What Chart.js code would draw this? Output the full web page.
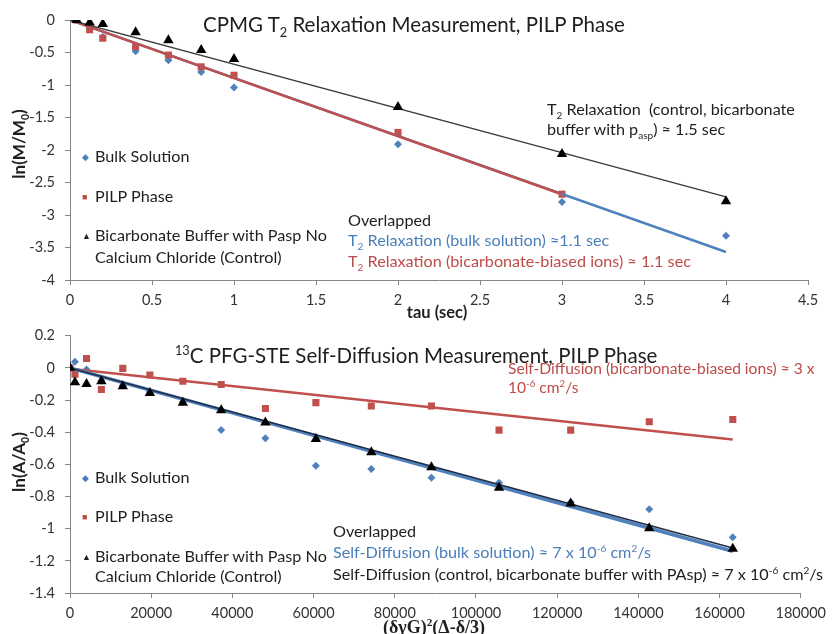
<!DOCTYPE html>
<html>
<head>
<meta charset="utf-8">
<script src="https://cdn.jsdelivr.net/npm/chart.js@4.4.0/dist/chart.umd.min.js"></script>
<style>
  body { margin: 0; background: #fff; }
  #wrap { position: relative; width: 833px; height: 634px; overflow: hidden; font-family: Lato, "Open Sans", sans-serif; color: #1e1e1e; }
  .cv { position: absolute; left: 0; }
  .t { position: absolute; white-space: nowrap; line-height: 1; }
  .c { transform: translate(-50%, -50%); }
  .rot { transform: translate(-50%, -50%) rotate(-90deg); font-weight: bold; font-size: 17px; }
  .blue { color: #4a7ebb; }
  .red { color: #be4b48; }
  .mk { display: inline-block; width: 13px; font-size: 9px; vertical-align: 2px; }
  sub, sup { font-size: 0.62em; line-height: 0; }
  .title { font-size: 20.5px; }
  .lab { font-size: 16.2px; }
</style>
</head>
<body>
<div id="wrap">
  <canvas id="t2Chart" class="cv" style="top:0" width="833" height="317"></canvas>
  <canvas id="diffChart" class="cv" style="top:317px" width="833" height="317"></canvas>

  <!-- CPMG chart text -->
  <div class="t title" style="left:203px;top:14px">CPMG T<sub>2</sub> Relaxation Measurement, PILP Phase</div>
  <div class="t lab" style="left:547px;top:101px">T<sub>2</sub> Relaxation&nbsp; (control, bicarbonate</div>
  <div class="t lab" style="left:547px;top:121px">buffer with p<sub>asp</sub>) ≈ 1.5 sec</div>
  <div class="t lab" style="left:82px;top:148px"><span class="mk blue">◆</span>Bulk Solution</div>
  <div class="t lab" style="left:82px;top:188px"><span class="mk red">■</span>PILP Phase</div>
  <div class="t lab" style="left:82px;top:227px"><span class="mk">▲</span>Bicarbonate Buffer with Pasp No</div>
  <div class="t lab" style="left:95px;top:249px">Calcium Chloride (Control)</div>
  <div class="t lab" style="left:348px;top:212px">Overlapped</div>
  <div class="t lab blue" style="left:348px;top:232px">T<sub>2</sub> Relaxation (bulk solution) ≈1.1 sec</div>
  <div class="t lab red" style="left:348px;top:253px">T<sub>2</sub> Relaxation (bicarbonate-biased ions) ≈ 1.1 sec</div>
  <div class="t c" style="left:437px;top:312px;font-weight:bold;font-size:16.5px">tau (sec)</div>
  <div class="t rot" style="left:18px;top:144px">ln(M/M<sub>0</sub>)</div>

  <!-- PFG-STE chart text -->
  <div class="t title" style="left:175px;top:345px"><sup>13</sup>C PFG-STE Self-Diffusion Measurement, PILP Phase</div>
  <div class="t red" style="left:508px;top:361px;font-size:15.6px">Self-Diffusion (bicarbonate-biased ions) ≈ 3 x</div>
  <div class="t red" style="left:508px;top:380px;font-size:15.6px">10<sup>-6</sup> cm<sup>2</sup>/s</div>
  <div class="t lab" style="left:82px;top:469px"><span class="mk blue">◆</span>Bulk Solution</div>
  <div class="t lab" style="left:82px;top:508px"><span class="mk red">■</span>PILP Phase</div>
  <div class="t lab" style="left:82px;top:548px"><span class="mk">▲</span>Bicarbonate Buffer with Pasp No</div>
  <div class="t lab" style="left:95px;top:568px">Calcium Chloride (Control)</div>
  <div class="t lab" style="left:333px;top:523px">Overlapped</div>
  <div class="t lab blue" style="left:333px;top:544px">Self-Diffusion (bulk solution) ≈ 7 x 10<sup>-6</sup> cm<sup>2</sup>/s</div>
  <div class="t lab" style="left:333px;top:566px">Self-Diffusion (control, bicarbonate buffer with PAsp) ≈ 7 x 10<sup>-6</sup> cm<sup>2</sup>/s</div>
  <div class="t c" style="left:434px;top:627px;font-weight:bold;font-size:18px;font-family:'Liberation Serif',serif">(δγG)<sup>2</sup>(Δ-δ/3)</div>
  <div class="t rot" style="left:18px;top:462px">ln(A/A<sub>0</sub>)</div>
</div>

<script>
// CPMG T2 relaxation: tau (sec) vs ln(M/M0)
const tauBulk = [0.04, 0.12, 0.2, 0.4, 0.6, 0.8, 1, 2, 3, 4];
const lnMBulk = [0, -0.13, -0.26, -0.48, -0.62, -0.8, -1.04, -1.91, -2.8, -3.32];
const tauPilp = [0.04, 0.12, 0.2, 0.4, 0.6, 0.8, 1, 2, 3];
const lnMPilp = [0, -0.15, -0.28, -0.41, -0.54, -0.72, -0.85, -1.73, -2.68];
const tauCtrl = [0.04, 0.12, 0.2, 0.4, 0.6, 0.8, 1, 2, 3, 4];
const lnMCtrl = [0, -0.04, -0.06, -0.19, -0.31, -0.46, -0.6, -1.34, -2.06, -2.79];

// linear fits (end points)
const fitTauBulk = [0, 4], fitMBulk = [0, -3.57];
const fitTauPilp = [0, 3], fitMPilp = [0, -2.68];
const fitTauCtrl = [0, 4], fitMCtrl = [0, -2.72];

// 13C PFG-STE self-diffusion: (dgG)^2(D-d/3) vs ln(A/A0)
const bVals = [0, 1220, 4070, 7730, 13000, 19680, 27800, 37240, 48130, 60570, 74220, 89020, 105680, 123330, 142680, 163250];
const lnABulk = [0, 0.038, -0.01, -0.08, -0.11, -0.15, -0.21, -0.387, -0.438, -0.608, -0.629, -0.684, -0.715, -0.835, -0.879, -1.054];
const lnAPilp = [0, -0.04, 0.058, -0.134, -0.003, -0.044, -0.083, -0.104, -0.253, -0.216, -0.237, -0.237, -0.387, -0.387, -0.335, -0.321];
const lnACtrl = [0, -0.09, -0.1, -0.083, -0.114, -0.157, -0.217, -0.264, -0.34, -0.442, -0.524, -0.618, -0.746, -0.844, -0.998, -1.125];

const fitB = [0, 163250];
const fitABulk = [0, -1.14];
const fitAPilp = [-0.005, -0.445];
const fitACtrl = [0, -1.12];

const BLUE = '#4f81bd', RED = '#c0504d', AXIS = '#868686', TXT = '#333';

function pts(xs, ys) {
  return xs.map(function (x, i) { return { x: x, y: ys[i] }; });
}

function markers(xs, ys, style, color, r) {
  return {
    type: 'scatter', data: pts(xs, ys), showLine: false,
    pointStyle: style, pointRadius: r, pointHoverRadius: r,
    backgroundColor: color, borderColor: color, borderWidth: 0
  };
}

function fitLine(xs, ys, color, w) {
  return {
    type: 'line', data: pts(xs, ys), showLine: true,
    borderColor: color, borderWidth: w, pointRadius: 0, fill: false
  };
}

function axis(min, max, step, pad, fit, fmt) {
  return {
    type: 'linear', min: min, max: max,
    ticks: {
      stepSize: step, color: TXT, padding: pad,
      font: { family: 'Lato', size: 14.5 },
      callback: fmt || function (v) { return String(Math.round(v * 100) / 100); }
    },
    grid: { drawOnChartArea: false, drawTicks: true, tickLength: 5, color: AXIS },
    border: { color: AXIS, width: 1 },
    afterFit: fit
  };
}

function makeChart(id, datasets, xAxis, yAxis, padTop, padBottom) {
  return new Chart(document.getElementById(id), {
    data: { datasets: datasets },
    options: {
      responsive: false, animation: false, devicePixelRatio: 1,
      layout: { padding: { left: 0, top: padTop, right: 25, bottom: padBottom } },
      plugins: { legend: { display: false }, tooltip: { enabled: false } },
      scales: { x: xAxis, y: yAxis }
    }
  });
}

const yFit = function (s) { s.width = 70; };
const xFit = function (s) { s.height = 30; };

makeChart('t2Chart', [
  markers(tauCtrl, lnMCtrl, 'triangle', '#000', 6),
  fitLine(fitTauCtrl, fitMCtrl, '#3a3a3a', 1.3),
  fitLine(fitTauPilp, fitMPilp, RED, 2.5),
  fitLine(fitTauBulk, fitMBulk, BLUE, 2.5),
  markers(tauPilp, lnMPilp, 'rect', RED, 5),
  markers(tauBulk, lnMBulk, 'rectRot', BLUE, 4)
], axis(0, 4.5, 0.5, 7, xFit), axis(-4, 0, 0.5, 10, yFit), 20, 7);

makeChart('diffChart', [
  markers(bVals, lnACtrl, 'triangle', '#000', 6),
  fitLine(fitB, fitACtrl, '#1f2d45', 1.5),
  fitLine(fitB, fitABulk, BLUE, 3.5),
  fitLine(fitB, fitAPilp, RED, 2.5),
  markers(bVals, lnAPilp, 'rect', RED, 5),
  markers(bVals, lnABulk, 'rectRot', BLUE, 4)
], axis(0, 180000, 20000, 7, xFit, function (v) { return String(v); }),
   axis(-1.4, 0.2, 0.2, 10, yFit), 16, 11);
</script>
</body>
</html>
